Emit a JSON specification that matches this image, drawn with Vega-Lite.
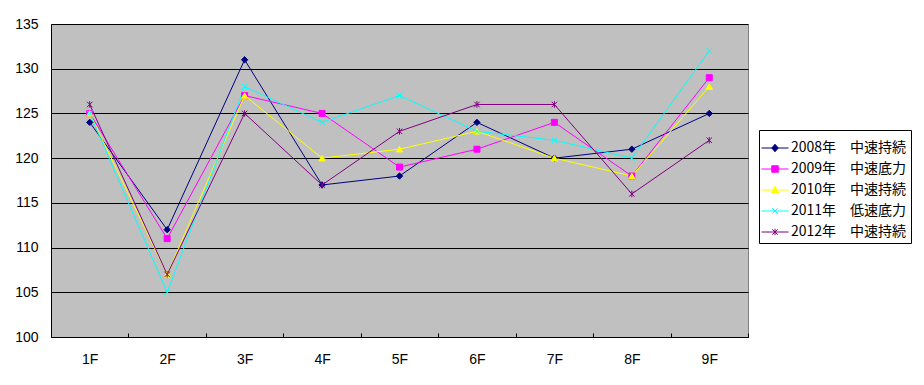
{
  "$schema": "https://vega.github.io/schema/vega-lite/v6.json",
  "width": 697,
  "height": 313,
  "autosize": {"type": "none"},
  "padding": {"left": 51, "top": 24, "right": 176, "bottom": 48},
  "background": "white",
  "config": {
    "view": {"fill": "#C0C0C0", "stroke": "#808080", "strokeWidth": 1},
    "font": "Liberation Sans"
  },
  "data": {
    "values": [
      {"s": "2008年　中速持続", "f": "1F", "v": 124},
      {"s": "2008年　中速持続", "f": "2F", "v": 112},
      {"s": "2008年　中速持続", "f": "3F", "v": 131},
      {"s": "2008年　中速持続", "f": "4F", "v": 117},
      {"s": "2008年　中速持続", "f": "5F", "v": 118},
      {"s": "2008年　中速持続", "f": "6F", "v": 124},
      {"s": "2008年　中速持続", "f": "7F", "v": 120},
      {"s": "2008年　中速持続", "f": "8F", "v": 121},
      {"s": "2008年　中速持続", "f": "9F", "v": 125},
      {"s": "2009年　中速底力", "f": "1F", "v": 125},
      {"s": "2009年　中速底力", "f": "2F", "v": 111},
      {"s": "2009年　中速底力", "f": "3F", "v": 127},
      {"s": "2009年　中速底力", "f": "4F", "v": 125},
      {"s": "2009年　中速底力", "f": "5F", "v": 119},
      {"s": "2009年　中速底力", "f": "6F", "v": 121},
      {"s": "2009年　中速底力", "f": "7F", "v": 124},
      {"s": "2009年　中速底力", "f": "8F", "v": 118},
      {"s": "2009年　中速底力", "f": "9F", "v": 129},
      {"s": "2010年　中速持続", "f": "1F", "v": 125},
      {"s": "2010年　中速持続", "f": "2F", "v": 107},
      {"s": "2010年　中速持続", "f": "3F", "v": 127},
      {"s": "2010年　中速持続", "f": "4F", "v": 120},
      {"s": "2010年　中速持続", "f": "5F", "v": 121},
      {"s": "2010年　中速持続", "f": "6F", "v": 123},
      {"s": "2010年　中速持続", "f": "7F", "v": 120},
      {"s": "2010年　中速持続", "f": "8F", "v": 118},
      {"s": "2010年　中速持続", "f": "9F", "v": 128},
      {"s": "2011年　低速底力", "f": "1F", "v": 125},
      {"s": "2011年　低速底力", "f": "2F", "v": 105},
      {"s": "2011年　低速底力", "f": "3F", "v": 128},
      {"s": "2011年　低速底力", "f": "4F", "v": 124},
      {"s": "2011年　低速底力", "f": "5F", "v": 127},
      {"s": "2011年　低速底力", "f": "6F", "v": 123},
      {"s": "2011年　低速底力", "f": "7F", "v": 122},
      {"s": "2011年　低速底力", "f": "8F", "v": 120},
      {"s": "2011年　低速底力", "f": "9F", "v": 132},
      {"s": "2012年　中速持続", "f": "1F", "v": 126},
      {"s": "2012年　中速持続", "f": "2F", "v": 107},
      {"s": "2012年　中速持続", "f": "3F", "v": 125},
      {"s": "2012年　中速持続", "f": "4F", "v": 117},
      {"s": "2012年　中速持続", "f": "5F", "v": 123},
      {"s": "2012年　中速持続", "f": "6F", "v": 126},
      {"s": "2012年　中速持続", "f": "7F", "v": 126},
      {"s": "2012年　中速持続", "f": "8F", "v": 116},
      {"s": "2012年　中速持続", "f": "9F", "v": 122}
    ]
  },
  "encoding": {
    "x": {
      "field": "f", "type": "ordinal", "bandPosition": 0.5,
      "scale": {"type": "band", "paddingInner": 0, "paddingOuter": 0},
      "axis": {
        "title": null, "labelAngle": 0, "tickBand": "extent", "tickSize": -4,
        "tickColor": "black", "domainColor": "black", "labelFontSize": 14,
        "labelColor": "black", "labelPadding": 19, "grid": false
      }
    },
    "y": {
      "field": "v", "type": "quantitative",
      "scale": {"domain": [100, 135], "nice": false, "zero": false},
      "axis": {
        "title": null, "values": [100, 105, 110, 115, 120, 125, 130, 135],
        "ticks": false, "labelPadding": 13, "labelFontSize": 14, "labelColor": "black",
        "domainColor": "black", "grid": true, "gridColor": "black", "gridOpacity": 1, "gridWidth": 1
      }
    }
  },
  "layer": [
    {
      "mark": {"type": "line", "strokeWidth": 1},
      "encoding": {
        "color": {
          "field": "s", "type": "nominal",
          "scale": {
            "domain": ["2008年　中速持続", "2009年　中速底力", "2010年　中速持続", "2011年　低速底力", "2012年　中速持続"],
            "range": ["#000080", "#FF00FF", "#FFFF00", "#00FFFF", "#800080"]
          },
          "legend": {
            "title": null, "orient": "none", "legendX": 708, "legendY": 106,
            "padding": 4, "strokeColor": "black", "fillColor": "white",
            "labelFont": "Noto Sans CJK JP", "labelFontSize": 14, "labelColor": "black",
            "symbolSize": 100, "symbolOffset": -2, "labelOffset": 2, "rowPadding": -1.5,
            "encode": {
              "symbols": {
                "update": {
                  "shape": {"signal": "['M-1,0H1M0,-0.28L0.24,0L0,0.28L-0.24,0Z','M-1,0H1M-0.24,-0.24H0.24V0.24H-0.24Z','M-1,0H1M0,-0.28L0.26,0.22H-0.26Z','M-1,0H1M-0.2,-0.2L0.2,0.2M-0.2,0.2L0.2,-0.2','M-1,0H1M-0.2,-0.2L0.2,0.2M-0.2,0.2L0.2,-0.2M0,-0.24V0.24'][datum.index]"},
                  "size": {"value": 729},
                  "fill": {"scale": "color", "field": "value"},
                  "stroke": {"scale": "color", "field": "value"},
                  "strokeWidth": {"value": 1},
                  "opacity": {"value": 1}
                }
              }
            }
          }
        }
      }
    },
    {
      "transform": [{"filter": "datum.s === '2008年　中速持続'"}],
      "mark": {"type": "point", "shape": "diamond", "size": 40, "filled": true, "fill": "#000080", "stroke": "#000080", "strokeWidth": 1, "opacity": 1}
    },
    {
      "transform": [{"filter": "datum.s === '2009年　中速底力'"}],
      "mark": {"type": "point", "shape": "square", "size": 36, "filled": true, "fill": "#FF00FF", "stroke": "#FF00FF", "strokeWidth": 1, "opacity": 1}
    },
    {
      "transform": [{"filter": "datum.s === '2010年　中速持続'"}],
      "mark": {"type": "point", "shape": "triangle-up", "size": 40, "filled": true, "fill": "#FFFF00", "stroke": "#FFFF00", "strokeWidth": 1, "opacity": 1}
    },
    {
      "transform": [{"filter": "datum.s === '2011年　低速底力'"}],
      "mark": {"type": "point", "shape": "M-1,-1L1,1M-1,1L1,-1", "size": 30, "filled": false, "stroke": "#00FFFF", "strokeWidth": 1, "opacity": 1}
    },
    {
      "transform": [{"filter": "datum.s === '2012年　中速持続'"}],
      "mark": {"type": "point", "shape": "M-1,-1L1,1M-1,1L1,-1M0,-1.2V1.2", "size": 30, "filled": false, "stroke": "#800080", "strokeWidth": 1, "opacity": 1}
    }
  ]
}
